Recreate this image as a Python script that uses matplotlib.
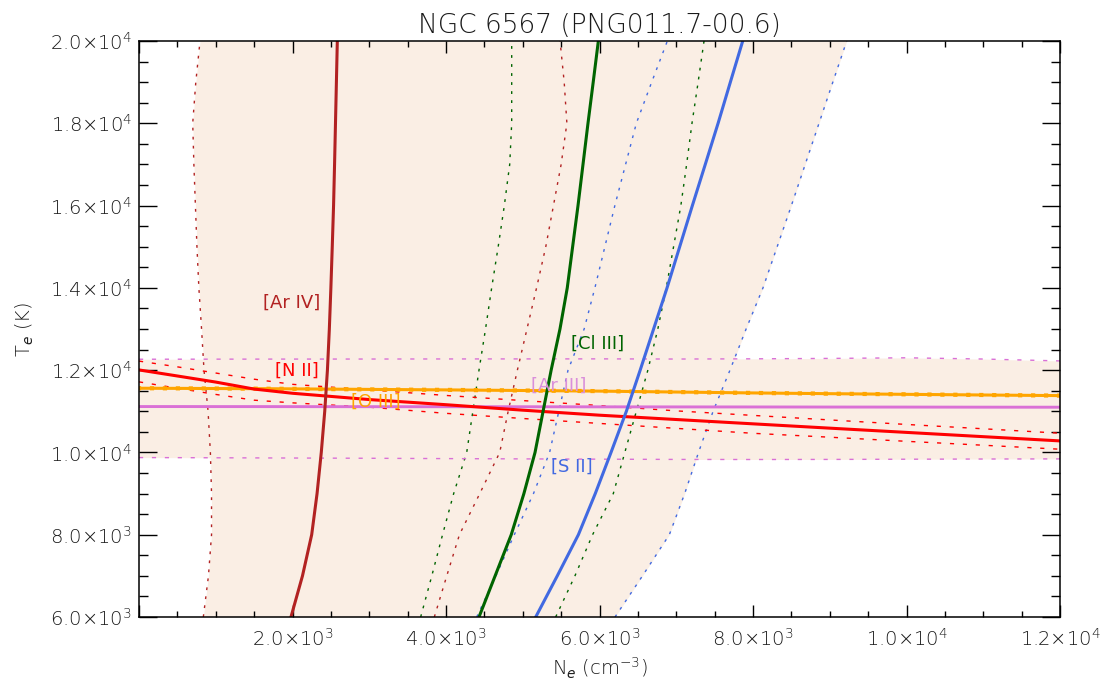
import matplotlib
matplotlib.use("Agg")
import matplotlib.pyplot as plt
from matplotlib.ticker import FixedLocator, FixedFormatter, MultipleLocator

# ---------------------------------------------------------------------------
# Density diagnostics: N_e (cm^-3) of each curve sampled on a T_e grid (K)
# ---------------------------------------------------------------------------
te_grid = [6000, 7000, 8000, 9000, 10000, 11000, 12000, 13000, 14000,
           15000, 16000, 17000, 18000, 19000, 20000]

ar4_ne = [1980, 2130, 2250, 2320, 2375, 2420, 2455, 2480, 2500,
          2518, 2535, 2548, 2560, 2572, 2584]
ar4_lo = [838, 905, 945, 945, 930, 900, 847, 815, 780,
          755, 735, 715, 700, 740, 795]
ar4_hi = [3848, 4010, 4175, 4440, 4700, 4810, 4930, 5055, 5180,
          5300, 5400, 5500, 5575, 5540, 5486]

cl3_ne = [4430, 4640, 4850, 5015, 5160, 5265, 5370, 5485, 5580,
          5650, 5720, 5785, 5850, 5918, 5985]
cl3_lo = [3670, 3815, 3955, 4100, 4270, 4350, 4430, 4515, 4595,
          4680, 4760, 4830, 4856, 4856, 4856]
cl3_hi = [5429, 5680, 5910, 6180, 6330, 6480, 6630, 6760, 6870,
          6965, 7060, 7135, 7205, 7285, 7362]

s2_ne = [5169, 5450, 5725, 5945, 6150, 6350, 6530, 6705, 6880,
         7045, 7210, 7378, 7545, 7705, 7866]
s2_lo = [4400, 4650, 4890, 5140, 5350, 5470, 5590, 5800, 5940,
         6070, 6200, 6340, 6480, 6680, 6884]
s2_hi = [6202, 6560, 6910, 7110, 7290, 7480, 7700, 7910, 8130,
         8315, 8500, 8680, 8860, 9040, 9221]

# ---------------------------------------------------------------------------
# Temperature diagnostics: T_e (K) of each curve sampled on an N_e grid
# ---------------------------------------------------------------------------
ne_grid = [0, 500, 1000, 1500, 2000, 3000, 4000, 5000, 6000,
           7000, 8000, 9000, 10000, 11000, 12000]

n2_te = [12005, 11858, 11710, 11540, 11438, 11285, 11160, 11027, 10905,
         10800, 10695, 10590, 10487, 10383, 10280]
n2_hi = [12220, 12080, 11930, 11780, 11655, 11520, 11385, 11260, 11140,
         11010, 10900, 10790, 10680, 10575, 10467]
n2_lo = [11715, 11560, 11410, 11270, 11205, 11100, 10950, 10825, 10705,
         10585, 10465, 10370, 10270, 10175, 10078]

o3_te = [11560, 11557, 11553, 11550, 11545, 11532, 11520, 11505, 11490,
         11468, 11446, 11428, 11412, 11396, 11381]

ar3_te = [11115, 11115, 11114, 11114, 11113, 11112, 11111, 11110, 11108,
          11106, 11105, 11103, 11102, 11100, 11099]
ar3_hi = [12265, 12266, 12267, 12268, 12269, 12270, 12272, 12273, 12274,
          12270, 12275, 12285, 12300, 12270, 12224]
ar3_lo = [9875, 9873, 9870, 9867, 9864, 9858, 9850, 9843, 9836,
          9830, 9828, 9830, 9835, 9840, 9843]

# Ion labels: text, position (N_e, T_e), colour
label_text = ["[Ar IV]", "[N II]", "[O III]", "[Cl III]", "[Ar III]", "[S II]"]
label_ne = [1994, 2059, 3088, 5981, 5473, 5642]
label_te = [13633, 11981, 11228, 12637, 11616, 9648]
label_color = ["#B22222", "#FF0000", "#FFA500", "#006400", "#DA8FDA", "#4169E1"]

# Axis ticks
x_major = [0, 2000, 4000, 6000, 8000, 10000, 12000]
x_labels = ["", "2.0\u00d710$^{3}$", "4.0\u00d710$^{3}$", "6.0\u00d710$^{3}$",
            "8.0\u00d710$^{3}$", "1.0\u00d710$^{4}$", "1.2\u00d710$^{4}$"]
y_major = [6000, 8000, 10000, 12000, 14000, 16000, 18000, 20000]
y_labels = ["6.0\u00d710$^{3}$", "8.0\u00d710$^{3}$", "1.0\u00d710$^{4}$",
            "1.2\u00d710$^{4}$", "1.4\u00d710$^{4}$", "1.6\u00d710$^{4}$",
            "1.8\u00d710$^{4}$", "2.0\u00d710$^{4}$"]

# ---------------------------------------------------------------------------
plt.rcParams["font.family"] = ["DejaVu Sans"]
plt.rcParams["font.weight"] = "light"
plt.rcParams["axes.titleweight"] = "light"
plt.rcParams["axes.labelweight"] = "light"
plt.rcParams["mathtext.fontset"] = "dejavusans"

FILL = "#FAEEE4"
RED_BROWN = "#B22222"
GREEN = "#006400"
BLUE = "#4169E1"
RED = "#FF0000"
ORANGE = "#FFA500"
ORCHID = "#DA70D6"
TEXT = "#1a1a1a"

W, H = 1110, 688
fig = plt.figure(figsize=(W / 100, H / 100), dpi=100)
ax = fig.add_axes([139 / W, (H - 617) / H, 921 / W, 576 / H])

# Allowed region: union of the density band and the temperature band
ax.fill_betweenx(te_grid, ar4_lo, s2_hi, color=FILL, lw=0, zorder=0)
ax.fill_between(ne_grid, ar3_lo, ar3_hi, color=FILL, lw=0, zorder=0)

dot = (0, (2.0, 4.5))
dash = (0, (3.0, 6.3))

# Uncertainty bounds
for xs, col in [(ar4_lo, RED_BROWN), (ar4_hi, RED_BROWN),
                (cl3_lo, GREEN), (cl3_hi, GREEN),
                (s2_lo, BLUE), (s2_hi, BLUE)]:
    ax.plot(xs, te_grid, color=col, lw=1.0, ls=dot, zorder=2)
for ys, col in [(n2_hi, RED), (n2_lo, RED), (ar3_hi, ORCHID), (ar3_lo, ORCHID)]:
    ax.plot(ne_grid, ys, color=col, lw=1.0, ls=dash, zorder=2)

# Central diagnostic curves
ax.plot(ne_grid, ar3_te, color=ORCHID, lw=2.1, zorder=3)
ax.plot(ne_grid, o3_te, color=ORANGE, lw=2.2, zorder=3)
ax.plot(ne_grid, o3_te, color=ORANGE, lw=3.0, ls=(0, (0.01, 3.1)),
        dash_capstyle="projecting", zorder=3)
ax.plot(ne_grid, n2_te, color=RED, lw=2.2, zorder=4)
ax.plot(ar4_ne, te_grid, color=RED_BROWN, lw=2.2, zorder=4)
ax.plot(cl3_ne, te_grid, color=GREEN, lw=2.2, zorder=4)
ax.plot(s2_ne, te_grid, color=BLUE, lw=2.2, zorder=4)

for txt, xv, yv, col in zip(label_text, label_ne, label_te, label_color):
    ax.text(xv, yv, txt, color=col, fontsize=13, fontweight="normal",
            ha="center", va="center", zorder=5)

ax.set_xlim(0, 12000)
ax.set_ylim(6000, 20000)

ax.xaxis.set_major_locator(FixedLocator(x_major))
ax.xaxis.set_major_formatter(FixedFormatter(x_labels))
ax.xaxis.set_minor_locator(MultipleLocator(500))
ax.yaxis.set_major_locator(FixedLocator(y_major))
ax.yaxis.set_major_formatter(FixedFormatter(y_labels))
ax.yaxis.set_minor_locator(MultipleLocator(500))

ax.tick_params(axis="both", which="both", direction="in", top=True, right=True,
               width=1.0, colors="black", labelsize=14, labelcolor=TEXT)
ax.tick_params(axis="x", which="major", length=8.3, pad=7.5)
ax.tick_params(axis="x", which="minor", length=4.1)
ax.tick_params(axis="y", which="major", length=13.3, pad=5)
ax.tick_params(axis="y", which="minor", length=6.6)
for sp in ax.spines.values():
    sp.set_linewidth(1.1)
    sp.set_zorder(6)

ax.set_title("NGC 6567 (PNG011.7-00.6)", fontsize=19, pad=6, color=TEXT)
ax.set_xlabel("N$_{e}$ (cm$^{-3}$)", fontsize=14, labelpad=5, color=TEXT)
ax.set_ylabel("T$_{e}$ (K)", fontsize=14, labelpad=10, color=TEXT)

fig.savefig("out.png", dpi=100)
